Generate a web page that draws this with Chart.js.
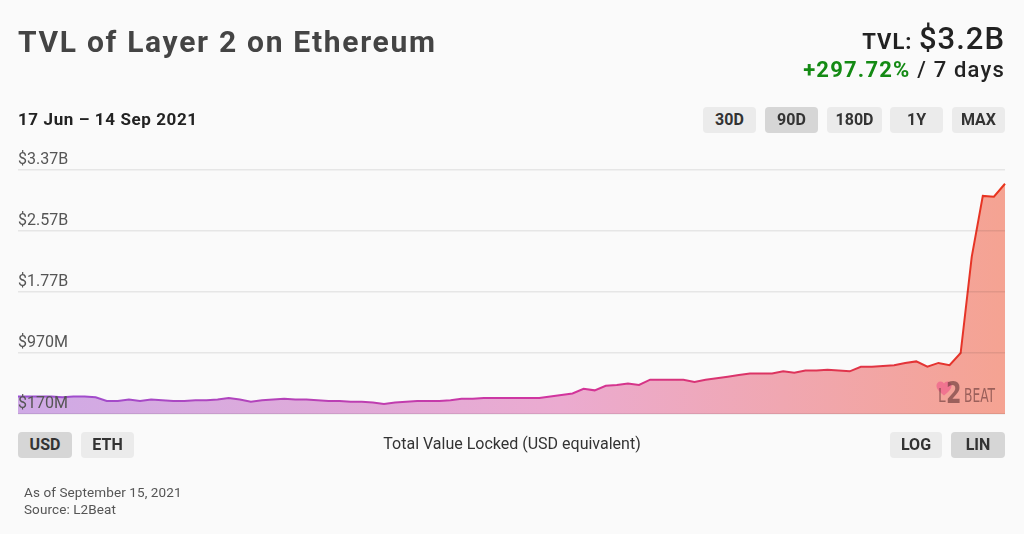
<!DOCTYPE html>
<html>
<head>
<meta charset="utf-8">
<script src="https://cdn.jsdelivr.net/npm/chart.js@4/dist/chart.umd.min.js"></script>
<style>
    html, body { margin: 0; padding: 0; background: #fafafa; }
    body { width: 1024px; height: 534px; position: relative; overflow: hidden; font-family: Roboto, "Noto Sans", sans-serif; color: #222; }
    #tvlchart { position: absolute; left: 0; top: 0; }
    .abs { position: absolute; white-space: nowrap; }
    .title { left: 18px; top: 24px; font-size: 30px; font-weight: 700; color: #444; letter-spacing: 1.7px; }
    .range { left: 18px; top: 109px; font-size: 17px; font-weight: 700; color: #222; letter-spacing: 0.6px; }
    .tvl { right: 19px; top: 20px; font-size: 22px; font-weight: 700; text-align: right; letter-spacing: 1px; }
    .tvl .big { font-size: 31px; font-weight: 500; }
    .change { right: 19px; top: 57px; font-size: 22px; font-weight: 500; letter-spacing: 1.2px; }
    .change .up { color: #148a14; font-weight: 700; }
    .btn { position: absolute; height: 26px; line-height: 26px; text-align: center; background: #ebebeb; border-radius: 4px; font-size: 16px; font-weight: 700; color: #333; }
    .btn.on { background: #d6d6d6; }
    .caption { left: 0; width: 1024px; top: 434px; text-align: center; font-size: 16px; color: #333; }
    .foot { left: 24px; font-size: 13.5px; color: #555; letter-spacing: 0.1px; }
    .mark { left: 935px; top: 378px; color: rgba(100, 55, 55, 0.62); font-family: "DejaVu Sans Condensed", "Liberation Sans Narrow", sans-serif; line-height: 1; }
    .mark span, .mark svg { position: absolute; transform-origin: left top; }
</style>
</head>
<body>
<canvas id="tvlchart" width="1024" height="534"></canvas>

<div class="abs title">TVL of Layer 2 on Ethereum</div>
<div class="abs range">17 Jun – 14 Sep 2021</div>
<div class="abs tvl">TVL: <span class="big">$3.2B</span></div>
<div class="abs change"><span class="up">+297.72%</span> / 7 days</div>

<div class="btn" style="left:703px;top:107px;width:53px">30D</div>
<div class="btn on" style="left:765px;top:107px;width:53px">90D</div>
<div class="btn" style="left:827px;top:107px;width:55px">180D</div>
<div class="btn" style="left:890px;top:107px;width:53px">1Y</div>
<div class="btn" style="left:952px;top:107px;width:53px">MAX</div>

<div class="btn on" style="left:18px;top:432px;width:54px">USD</div>
<div class="btn" style="left:81px;top:432px;width:53px">ETH</div>
<div class="abs caption">Total Value Locked (USD equivalent)</div>
<div class="btn" style="left:890px;top:432px;width:52px">LOG</div>
<div class="btn on" style="left:951px;top:432px;width:54px">LIN</div>

<div class="abs foot" style="top:484px">As of September 15, 2021</div>
<div class="abs foot" style="top:501px">Source: L2Beat</div>

<!-- L2BEAT watermark -->
<div class="abs mark">
    <svg width="16" height="15" viewBox="0 0 16 15" style="left:1px;top:3px">
        <path d="M8 14.5 C3 10.5 0.5 8 0.5 4.6 C0.5 2.2 2.3 0.5 4.5 0.5 C6 0.5 7.3 1.3 8 2.6 C8.7 1.3 10 0.5 11.5 0.5 C13.7 0.5 15.5 2.2 15.5 4.6 C15.5 8 13 10.5 8 14.5 Z" fill="rgba(240,95,140,0.7)"/>
    </svg>
    <span style="left:3px;top:8px;font-size:19px;transform:scaleX(0.8)">L</span>
    <span style="left:11px;top:-1px;font-size:31px;font-weight:700;transform:scaleX(0.8)">2</span>
    <span style="left:29px;top:8px;font-size:19px;transform:scaleX(0.72)">BEAT</span>
</div>

<script>
"use strict";

// Days shown on the chart (17 Jun - 14 Sep 2021, one point per day)
var startDay = new Date(2021, 5, 17);
var dayCount = 90;
var dayLabels = [];
for (var d = 0; d < dayCount; d++) {
    var day = new Date(startDay.getTime());
    day.setDate(startDay.getDate() + d);
    dayLabels.push(day.toISOString().slice(0, 10));
}

// TVL in billions of USD
var tvlValues = [
    0.40, 0.40, 0.40, 0.40, 0.39, 0.40, 0.40, 0.39, 0.34, 0.34, 0.36,
    0.34, 0.36, 0.35, 0.34, 0.34, 0.35, 0.35, 0.36, 0.38, 0.36, 0.33,
    0.35, 0.36, 0.37, 0.36, 0.36, 0.35, 0.34, 0.34, 0.33, 0.33, 0.32,
    0.30, 0.32, 0.33, 0.34, 0.34, 0.34, 0.35, 0.37, 0.37, 0.38, 0.38,
    0.38, 0.38, 0.38, 0.38, 0.40, 0.42, 0.44, 0.50, 0.48, 0.54, 0.55,
    0.57, 0.55, 0.62, 0.62, 0.62, 0.62, 0.59, 0.62, 0.64, 0.66, 0.68,
    0.70, 0.70, 0.70, 0.73, 0.71, 0.74, 0.74, 0.75, 0.74, 0.73, 0.79,
    0.79, 0.80, 0.81, 0.84, 0.86, 0.79, 0.84, 0.81, 0.97, 2.23, 3.03,
    3.02, 3.19
];

// y axis ticks (billions) and their labels
var yTickValues = [0.17, 0.97, 1.77, 2.57, 3.37];
var yTickLabels = ["$170M", "$970M", "$1.77B", "$2.57B", "$3.37B"];

window.settings = {
    lineStops: ["#9a4fd2", "#d2349e", "#e8341c"],
    fillStops: ["#cfaae6", "#ebabd0", "#f5a392"],
    gridColor: "rgba(0, 0, 0, 0.08)",
    tickColor: "#555"
};

// horizontal gradient across the plot area
function horizontalGradient(context, stops) {
    var chart = context.chart,
        area = chart.chartArea;
    if (!area) {
        return stops[0];
    }
    var g = chart.ctx.createLinearGradient(area.left, 0, area.right, 0);
    g.addColorStop(0, stops[0]);
    g.addColorStop(0.55, stops[1]);
    g.addColorStop(1, stops[2]);
    return g;
}

var ctx = document.getElementById("tvlchart").getContext("2d");
window.tvlChart = new Chart(ctx, {
    type: "line",
    data: {
        labels: dayLabels,
        datasets: [{
            data: tvlValues,
            borderWidth: 2,
            borderColor: function (c) { return horizontalGradient(c, window.settings.lineStops); },
            backgroundColor: function (c) { return horizontalGradient(c, window.settings.fillStops); },
            fill: "start",
            pointRadius: 0,
            tension: 0
        }]
    },
    options: {
        responsive: false,
        animation: false,
        layout: {
            padding: { left: 18, right: 19, top: 170, bottom: 120 }
        },
        plugins: {
            legend: { display: false },
            tooltip: { enabled: false }
        },
        scales: {
            x: {
                display: false,
                offset: false
            },
            y: {
                min: yTickValues[0],
                max: yTickValues[yTickValues.length - 1],
                afterBuildTicks: function (axis) {
                    axis.ticks = yTickValues.map(function (v) { return { value: v }; });
                },
                border: { display: false },
                // grid and labels sit on top of the filled area
                grid: {
                    z: 1,
                    color: window.settings.gridColor,
                    lineWidth: 1.5,
                    drawTicks: false
                },
                ticks: {
                    z: 1,
                    mirror: true,
                    padding: 0,
                    labelOffset: -10,
                    color: window.settings.tickColor,
                    font: { family: "Roboto", size: 16 },
                    callback: function (value, index) {
                        return yTickLabels[index];
                    }
                }
            }
        }
    }
});
</script>
</body>
</html>
